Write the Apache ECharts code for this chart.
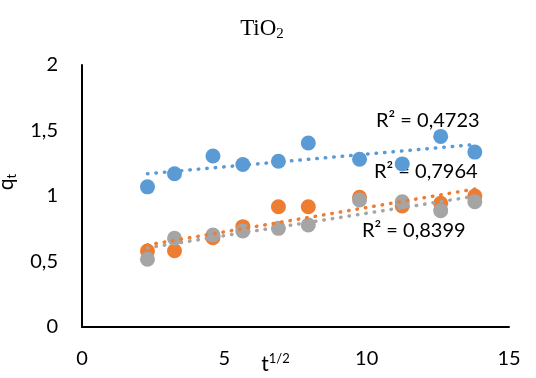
<!DOCTYPE html>
<html><head><meta charset="utf-8">
<script src="https://cdn.jsdelivr.net/npm/echarts@6/dist/echarts.min.js"></script>
<style>html,body{margin:0;padding:0;background:#fff}#c{width:536px;height:378px}</style>
</head><body><div id="c"></div>
<script>
const xVals = [2.3, 3.25, 4.6, 5.65, 6.9, 7.95, 9.75, 11.25, 12.6, 13.8];
const blueY = [1.07, 1.17, 1.305, 1.24, 1.265, 1.405, 1.28, 1.245, 1.455, 1.335];
const orangeY = [0.58, 0.582, 0.682, 0.766, 0.918, 0.918, 0.99, 0.924, 0.944, 1.0];
const grayY = [0.517, 0.677, 0.702, 0.733, 0.753, 0.779, 0.969, 0.956, 0.888, 0.956];
const r2Labels = ['R² = 0,4723', 'R² = 0,7964', 'R² = 0,8399'];
const xTicks = [0, 5, 10, 15];
const yTicks = [0, 0.5, 1, 1.5, 2];
const colors = ['#5B9BD5', '#ED7D31', '#A5A5A5'];
const FONT = 'Lato';

function fit(xs, ys) {
  const n = xs.length;
  const mx = xs.reduce((a,b)=>a+b,0)/n, my = ys.reduce((a,b)=>a+b,0)/n;
  let sxy=0, sxx=0;
  for (let i=0;i<n;i++){ sxy+=(xs[i]-mx)*(ys[i]-my); sxx+=(xs[i]-mx)**2; }
  const b = sxy/sxx, a = my - b*mx;
  const x0 = Math.min(...xs), x1 = Math.max(...xs);
  return [[x0, a+b*x0],[x1, a+b*x1]];
}
const pair = ys => xVals.map((x,i)=>[x, ys[i]]);
const sets = [blueY, orangeY, grayY];

const series = [];
sets.forEach((ys,i)=>{
  series.push({type:'scatter', data: pair(ys), symbol:'circle', symbolSize:15,
    itemStyle:{color:colors[i], opacity:1}, z:2+i, silent:true});
});
sets.forEach((ys,i)=>{
  series.push({type:'line', data: fit(xVals, ys), showSymbol:false, symbol:'none',
    lineStyle:{color:colors[i], width:3.5, type:[0.5,8], cap:'round'}, z:10-i, silent:true});
});

const chart = echarts.init(document.getElementById('c'));
chart.setOption({
  animation:false,
  title:{
    text:'{a|TiO}{s|2}', left:257, top:10, textAlign:'center',
    textStyle:{fontWeight:'normal', rich:{
      a:{fontFamily:'Liberation Serif', fontSize:23, fontWeight:'normal', color:'#000'},
      s:{fontFamily:'Liberation Serif', fontSize:15, fontWeight:'normal', color:'#000', padding:[12,0,0,0]}
    }}
  },
  grid:{left:82, right:27, top:65, bottom:51, containLabel:false, outerBoundsMode:'none'},
  xAxis:{type:'value', min:0, max:15, interval:5,
    axisLine:{show:true, onZero:false, lineStyle:{color:'#000', width:2}},
    axisTick:{show:false}, splitLine:{show:false},
    axisLabel:{fontFamily:FONT, fontSize:20, color:'#000', margin:22,
      customValues: xTicks},
    name:'{a|t}{s|1/2}', nameLocation:'middle', nameGap:25, nameMoveOverlap:false,
    nameTextStyle:{padding:[0,40,0,0], rich:{
      a:{fontFamily:FONT, fontSize:21, color:'#000'},
      s:{fontFamily:FONT, fontSize:13, color:'#000', padding:[0,0,12,0]}
    }}
  },
  yAxis:{type:'value', min:0, max:2, interval:0.5,
    axisLine:{show:true, lineStyle:{color:'#000', width:2}},
    axisTick:{show:false}, splitLine:{show:false},
    axisLabel:{fontFamily:FONT, fontSize:20, color:'#000', margin:24,
      customValues: yTicks,
      formatter: v => String(v).replace('.', ',')},
    name:'{a|q}{s|t}', nameLocation:'middle', nameGap:64, nameRotate:90, nameMoveOverlap:false,
    nameTextStyle:{padding:[0,0,0,28], rich:{
      a:{fontFamily:FONT, fontSize:21, color:'#000'},
      s:{fontFamily:FONT, fontSize:13, color:'#000', padding:[10,0,0,0]}
    }}
  },
  graphic:[
    {type:'text', left:376, top:111, style:{text:r2Labels[0], font:'20px '+FONT, fill:'#000'}},
    {type:'text', left:374, top:162, style:{text:r2Labels[1], font:'20px '+FONT, fill:'#000'}},
    {type:'text', left:362, top:221, style:{text:r2Labels[2], font:'20px '+FONT, fill:'#000'}}
  ],
  series: series
});
</script></body></html>
